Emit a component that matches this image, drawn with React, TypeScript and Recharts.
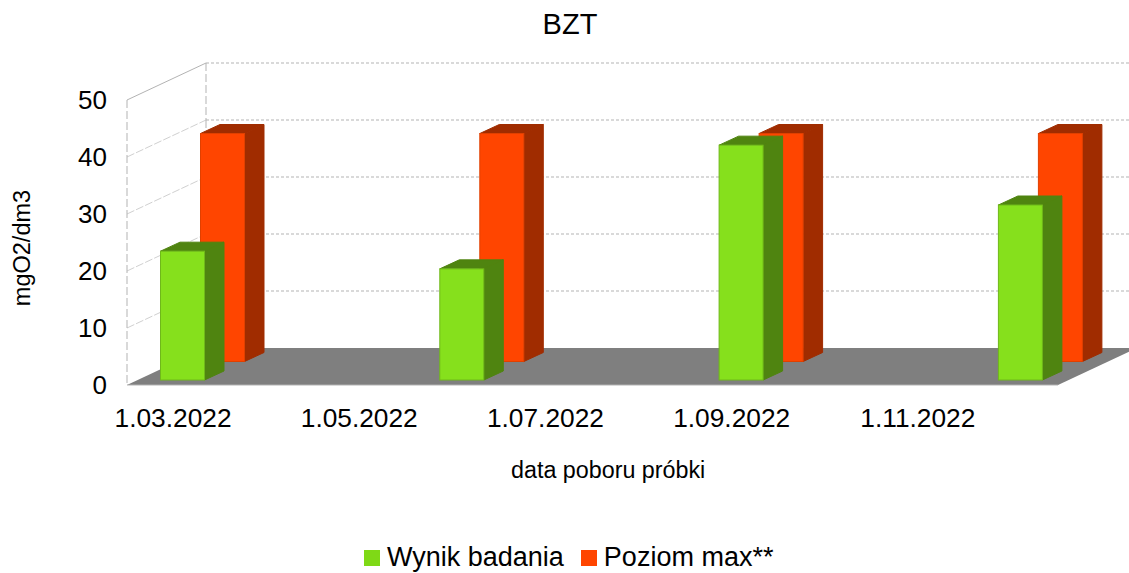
import { BarChart, Bar, XAxis, YAxis, CartesianGrid, Legend } from 'recharts';

const months = [
  '1.03.2022', '1.04.2022', '1.05.2022', '1.06.2022', '1.07.2022',
  '1.08.2022', '1.09.2022', '1.10.2022', '1.11.2022', '1.12.2022',
];
const wynik = [22.6, null, null, 19.5, null, null, 41.2, null, null, 30.7];
const poziom = [40, null, null, 40, null, null, 40, null, null, 40];
const yTicks = [0, 10, 20, 30, 40, 50];

const data = months.map((name, i) => ({ name, wynik: wynik[i], poziom: poziom[i] }));

const FONT = '"Liberation Sans", Arial, sans-serif';
const PLOT_TOP = 100;
const PLOT_BOTTOM = 385;
const WALL_DX = 79;
const WALL_DY = -37;
const GRID_GRAY = '#b3b3b3';

// fake 3D box, the bar rectangle is only moved back along the depth of the chart
const box = (dx: number, dy: number, front: string, side: string, topColor: string, edge: string) => (props: any) => {
  const { x, y, width, height } = props;
  if (!height) return null;
  const l = x + dx;
  const t = y + dy;
  const r = l + width;
  const b = t + height;
  const dw = 19.5;
  const dh = -9;
  return (
    <g>
      <path
        d={`M${l} ${t}L${l + dw} ${t + dh}L${r + dw} ${t + dh}L${r} ${t}Z`}
        fill={topColor}
        stroke={topColor}
      />
      <path
        d={`M${r} ${t}L${r + dw} ${t + dh}L${r + dw} ${b + dh}L${r} ${b}Z`}
        fill={side}
        stroke={side}
      />
      <rect x={l} y={t} width={width} height={height} fill={front} stroke={edge} strokeWidth={1} />
    </g>
  );
};

const GreenBox = box(8.5, -5, '#86e01c', '#4f8410', '#4f8410', '#6fb81a');
const RedBox = box(48.5, -23.5, '#ff4500', '#a02c00', '#a02c00', '#e04000');

// one call per y tick: side wall line, back wall line, and the floor at 0
const wallLine = (props: any) => {
  const { x1, x2, y1 } = props;
  const isFloor = Math.abs(y1 - PLOT_BOTTOM) < 1;
  const isTop = Math.abs(y1 - PLOT_TOP) < 1;
  const backY = y1 + WALL_DY;
  return (
    <g key={`wall-${y1}`}>
      {isFloor ? (
        <path
          d={`M${x1} ${y1}L${x1 + WALL_DX} ${backY}L${x2 + WALL_DX} ${backY}L${x2} ${y1}Z`}
          fill="#7f7f7f"
        />
      ) : (
        <>
          <line
            x1={x1}
            y1={y1}
            x2={x1 + WALL_DX}
            y2={backY}
            stroke={isTop ? GRID_GRAY : '#d0d0d0'}
            strokeDasharray={isTop ? undefined : '8 2'}
          />
          <line
            x1={x1 + WALL_DX}
            y1={backY}
            x2={x2 + WALL_DX}
            y2={backY}
            stroke={GRID_GRAY}
            strokeDasharray="3 2"
          />
          <line
            x1={x1 + WALL_DX}
            y1={backY}
            x2={x1 + WALL_DX}
            y2={backY + 57}
            stroke={GRID_GRAY}
            strokeDasharray="8 3"
          />
        </>
      )}
      {isFloor && <line x1={x1} y1={y1} x2={x2} y2={y1} stroke={GRID_GRAY} />}
    </g>
  );
};

export default function App() {
  return (
    <div style={{ position: 'absolute', left: 0, top: 0, width: 1129, height: 573, background: '#fff', fontFamily: FONT }}>
      <div style={{ position: 'absolute', left: 0, width: 1140, top: 8, textAlign: 'center', fontSize: 29, color: '#000' }}>BZT</div>
      <div
        style={{
          position: 'absolute',
          left: 22,
          top: 247.5,
          fontSize: 23.5,
          color: '#000',
          whiteSpace: 'nowrap',
          transform: 'translate(-50%, -50%) rotate(-90deg)',
        }}
      >
        mgO2/dm3
      </div>
      <div style={{ position: 'absolute', left: 511, top: 457, fontSize: 23.3, color: '#000', whiteSpace: 'nowrap' }}>
        data poboru próbki
      </div>
      <BarChart
        width={1129}
        height={573}
        data={data}
        margin={{ top: PLOT_TOP, right: 71, left: 0, bottom: 0 }}
        barSize={44}
        barGap={-44}
        barCategoryGap={0}
        style={{ position: 'absolute', left: 0, top: 0 }}
      >
        <CartesianGrid horizontal={wallLine} vertical={false} />
        <XAxis
          dataKey="name"
          height={153}
          interval={1}
          axisLine={false}
          tickLine={false}
          tickMargin={17}
          tick={{ fontSize: 26.3, fill: '#000', fontFamily: FONT, dx: -0.5 }}
        />
        <YAxis
          width={127}
          domain={[0, 50]}
          ticks={yTicks}
          axisLine={{ stroke: GRID_GRAY, strokeDasharray: '8 3' }}
          tickLine={false}
          tickMargin={14}
          tick={{ fontSize: 26, fill: '#000', fontFamily: FONT }}
        />
        <Legend
          verticalAlign="bottom"
          align="left"
          iconType="square"
          iconSize={16}
          itemSorter={(item: any) => (item.value === 'Wynik badania' ? 0 : 1)}
          formatter={(value: string) => (
            <span
              style={{
                color: '#000',
                fontSize: 27,
                fontFamily: FONT,
                marginLeft: 3,
                marginRight: 7,
                position: 'relative',
                top: 4,
              }}
            >
              {value}
            </span>
          )}
          wrapperStyle={{ position: 'absolute', left: 364, top: 538, width: 500, height: 35 }}
        />
        <Bar name="Poziom max**" dataKey="poziom" fill="#ff4500" shape={RedBox} isAnimationActive={false} />
        <Bar name="Wynik badania" dataKey="wynik" fill="#7fd916" shape={GreenBox} isAnimationActive={false} />
      </BarChart>
    </div>
  );
}
